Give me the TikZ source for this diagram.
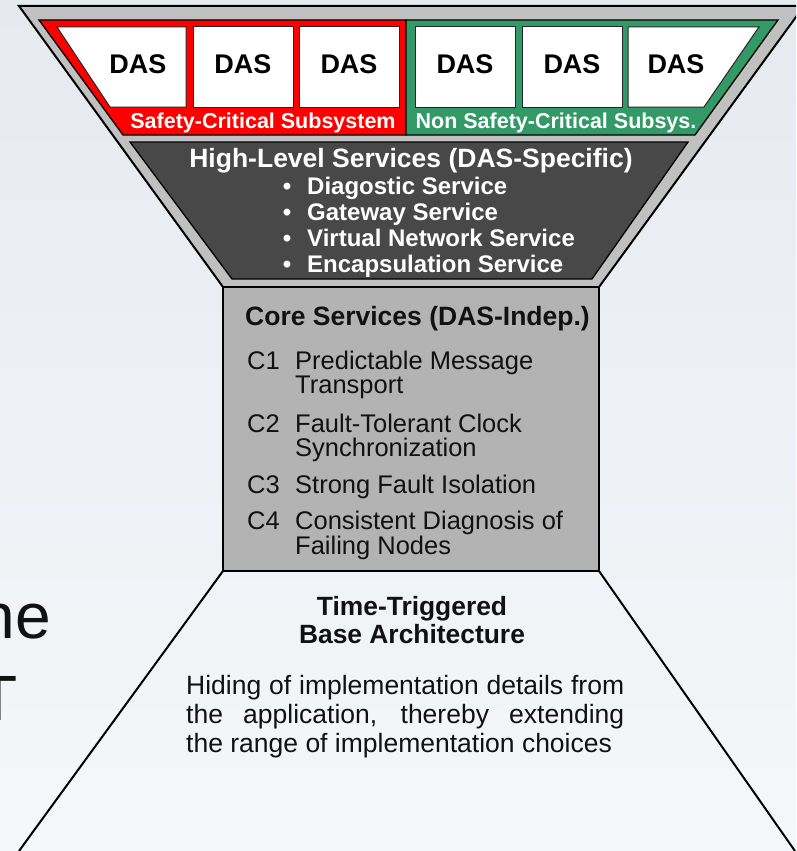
\documentclass[tikz,border=0pt]{standalone}
\usepackage{fontspec}
\setmainfont{Liberation Sans}
\definecolor{bgtop}{HTML}{E6EAEF}
\definecolor{bgbot}{HTML}{F5F7FA}
\definecolor{bandgray}{HTML}{C0C0C0}
\definecolor{safered}{HTML}{FF0000}
\definecolor{nsgreen}{HTML}{339966}
\definecolor{darkbox}{HTML}{484848}
\definecolor{corebox}{HTML}{B3B3B3}
\definecolor{inktext}{HTML}{111111}
\begin{document}
\begin{tikzpicture}[x=1pt,y=-1pt,
  outline/.style={draw=black, line width=2pt, line join=miter},
  thinline/.style={draw=black, line width=1.3pt, line join=miter},
  dasbox/.style={fill=white, draw=black!85, line width=1pt},
  dastext/.style={font=\fontsize{27}{27}\selectfont\bfseries, anchor=base, inner sep=0pt},
  sublabel/.style={font=\fontsize{21.5}{22}\selectfont\bfseries, text=white, anchor=base, inner sep=0pt},
  hlhead/.style={font=\fontsize{26.5}{27}\selectfont\bfseries, text=white, anchor=base, inner sep=0pt},
  hlitem/.style={font=\fontsize{24}{25}\selectfont\bfseries, text=white, anchor=base west, inner sep=0pt},
  hlbullet/.style={font=\fontsize{24}{25}\selectfont\bfseries, text=white, anchor=base, inner sep=0pt},
  corehead/.style={font=\fontsize{26.5}{27}\selectfont\bfseries, text=inktext, anchor=base west, inner sep=0pt},
  coreitem/.style={font=\fontsize{25.5}{26}\selectfont, text=inktext, anchor=base west, inner sep=0pt},
  basehead/.style={font=\fontsize{26.4}{27}\selectfont\bfseries, text=inktext, anchor=base, inner sep=0pt},
  basetext/.style={font=\fontsize{26.5}{27}\selectfont, text=inktext, anchor=base west, inner sep=0pt},
  slidetext/.style={font=\fontsize{64}{64}\selectfont, text=inktext, anchor=base east, inner sep=0pt}
]
\useasboundingbox (0,0) rectangle (796,851);
\clip (0,0) rectangle (796,851);
% background
\shade[top color=bgtop, bottom color=bgbot] (0,0) rectangle (796,851);
% slide title fragments
\node[slidetext] (he) at (51,638) {he};
\node[slidetext] (tt) at (18,720) {T};
% outer gray funnel
\filldraw[fill=bandgray, outline] (19,6) -- (804,6) -- (599,287) -- (223,287) -- cycle;
% red / green subsystem band
\filldraw[fill=safered, thinline] (39,20) -- (406,20) -- (406,135) -- (123,135) -- cycle;
\filldraw[fill=nsgreen, thinline] (406,20) -- (778,20) -- (695,135) -- (406,135) -- cycle;
% DAS boxes
\filldraw[dasbox] (57,27) -- (186,27) -- (186,107) -- (110,107) -- cycle;
\filldraw[dasbox] (193,27) rectangle (293,107);
\filldraw[dasbox] (299,27) rectangle (399,107);
\filldraw[dasbox] (415,27) rectangle (515,107);
\filldraw[dasbox] (522,27) rectangle (622,107);
\filldraw[dasbox] (628,27) -- (759,27) -- (704,107) -- (628,107) -- cycle;
\node[dastext] (das1) at (138,74) {DAS};
\node[dastext] (das2) at (243,74) {DAS};
\node[dastext] (das3) at (349,74) {DAS};
\node[dastext] (das4) at (465,74) {DAS};
\node[dastext] (das5) at (572,74) {DAS};
\node[dastext] (das6) at (676,74) {DAS};
\node[sublabel] (safe) at (263,128) {Safety-Critical Subsystem};
\node[sublabel] (nonsafe) at (556,128) {Non Safety-Critical Subsys.};
% high-level services
\filldraw[fill=darkbox, thinline] (130,142) -- (688,142) -- (592,279) -- (232,279) -- cycle;
\node[hlhead] (hlh) at (411,167) {High-Level Services (DAS-Specific)};
\node[hlbullet] (b1) at (287,194) {•};
\node[hlbullet] (b2) at (287,220) {•};
\node[hlbullet] (b3) at (287,246) {•};
\node[hlbullet] (b4) at (287,272) {•};
\node[hlitem] (hl1) at (307,194) {Diagostic Service};
\node[hlitem] (hl2) at (307,220) {Gateway Service};
\node[hlitem] (hl3) at (307,246) {Virtual Network Service};
\node[hlitem] (hl4) at (307,272) {Encapsulation Service};
% core services
\filldraw[fill=corebox, outline] (223,287) rectangle (599,571);
\coordinate (coreSW) at (223,571);
\coordinate (coreSE) at (599,571);
\coordinate (baseL) at (19,851);
\coordinate (baseR) at (795,851);
\node[corehead] (ch) at (245,325) {Core Services (DAS-Indep.)};
\node[coreitem] (c1) at (247,369) {C1};
\node[coreitem] (c1a) at (295,369) {Predictable Message};
\node[coreitem] (c1b) at (295,393) {Transport};
\node[coreitem] (c2) at (247,432) {C2};
\node[coreitem] (c2a) at (295,432) {Fault-Tolerant Clock};
\node[coreitem] (c2b) at (295,456) {Synchronization};
\node[coreitem] (c3) at (247,493) {C3};
\node[coreitem] (c3a) at (295,493) {Strong Fault Isolation};
\node[coreitem] (c4) at (247,529) {C4};
\node[coreitem] (c4a) at (295,529) {Consistent Diagnosis of};
\node[coreitem] (c4b) at (295,554) {Failing Nodes};
% base architecture
\draw[outline] (coreSW) -- (baseL);
\draw[outline] (coreSE) -- (baseR);
\node[basehead] (tt1) at (412,615) {Time-Triggered};
\node[basehead] (tt2) at (412,643) {Base Architecture};
\node[basetext] (p1) at (186,694) {\hbox to 438pt{Hiding of implementation details from}};
\node[basetext] (p2) at (186,723) {\hbox to 438pt{the application, thereby extending}};
\node[basetext] (p3) at (186,752) {the range of implementation choices};
\end{tikzpicture}
\end{document}
